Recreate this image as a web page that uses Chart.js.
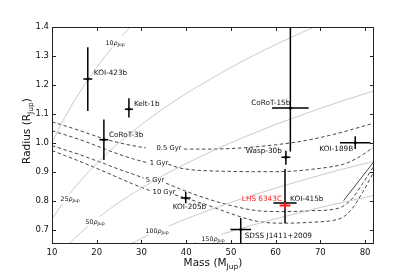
<!DOCTYPE html>
<html><head><meta charset="utf-8">
<script src="https://cdn.jsdelivr.net/npm/chart.js@4/dist/chart.umd.min.js"></script>
<style>html,body{margin:0;padding:0;background:#fff;}#wrap{width:416px;height:272px;}</style>
</head><body><div id="wrap"><canvas id="c" width="416" height="272"></canvas></div>
<script>
// ---------- data ----------
const X_TICKS = [10,20,30,40,50,60,70,80];
const Y_TICKS = [0.7,0.8,0.9,1.0,1.1,1.2,1.3,1.4];

const NAMES    = ["KOI-423b","Kelt-1b","CoRoT-3b","CoRoT-15b","Wasp-30b","KOI-189B","KOI-415b","KOI-205b","SDSS J1411+2009","LHS 6343C"];
const MASS     = [18.0, 27.2, 21.6, 63.3, 62.3, 77.8, 62.1, 39.9, 52.2, 62.1];
const MASS_ERR = [1.0, 0.9, 1.0, 4.1, 1.0, 3.4, 2.6, 1.1, 2.3, 1.2];
const RADIUS   = [1.22, 1.116, 1.01, 1.12, 0.95, 1.00, 0.792, 0.809, 0.70, 0.783];
const RAD_LO   = [0.11, 0.029, 0.07, 0.15, 0.026, 0.022, 0.07, 0.018, 0.05, 0.011];
const RAD_HI   = [0.11, 0.038, 0.07, 0.30, 0.022, 0.022, 0.117, 0.022, 0.04, 0.011];

// iso-density curves (mass, radius), null = label gap
const RHO10  = [[10,1.000],[12,1.063],[14,1.119],[16,1.170],[18,1.216],[20,1.260],[22,1.301],[23.5,1.330],null,[25.7,1.370],[27.5,1.401]];
const RHO25  = [[10,0.737],[12.3,0.789],null,[14.0,0.824],[16,0.862],[20,0.928],[25,1.000],[30,1.063],[35,1.119],[40,1.170],[45,1.216],[50,1.260],[55,1.301],[60,1.339],[65,1.375],[68.6,1.400]];
const RHO50  = [[13.7,0.650],[15,0.669],[18.0,0.711],null,[20.7,0.745],[25,0.794],[30,0.843],[35,0.888],[40,0.928],[45,0.965],[50,1.000],[55,1.032],[60,1.063],[65,1.091],[70,1.119],[75,1.145],[82,1.179]];
const RHO100 = [[27.5,0.650],[30,0.669],[31.7,0.682],null,[36.1,0.712],[40,0.737],[45,0.766],[50,0.794],[55,0.819],[60,0.843],[65,0.866],[70,0.888],[75,0.909],[82,0.936]];
const RHO150 = [[41.2,0.650],[42.2,0.655],null,[47.8,0.683],[50,0.693],[55,0.716],[60,0.737],[65,0.757],[70,0.776],[75,0.794],[82,0.818]];
const RHO_LABELS = ["10","25","50","100","150"];

// isochrones
const ISO05 = [[10,1.072],[13,1.058],[16,1.043],[19,1.027],[22,1.012],[25,1.0],[28,0.99],[31,0.982],null,[39.5,0.978],[45,0.978],[50,0.98],[55,0.985],[60,0.993],[65,1.003],[70,1.018],[75,1.037],[82,1.068]];
const ISO1  = [[10,1.041],[13,1.027],[16,1.012],[19,0.995],[22,0.977],[25,0.96],[28,0.945],[31.5,0.93],null,[36,0.926],[38,0.915],[41,0.907],[45,0.903],[50,0.901],[55,0.9],[60,0.9],[64,0.902],[68,0.908],[72,0.916],[75,0.925],[78,0.945],[82,0.985]];
const ISO5  = [[10,0.99],[13,0.975],[16,0.96],[19,0.943],[22,0.926],[25,0.908],[28,0.892],[30.5,0.878],null,[35.5,0.86],[40,0.832],[45,0.805],[50,0.783],[56,0.765],[62,0.762],[68,0.765],[73,0.77],[75,0.78],[77,0.805],[79.5,0.86],[82,0.92]];
const ISO10 = [[10,0.973],[13,0.955],[16,0.937],[19,0.918],[22,0.898],[25,0.878],[28,0.858],[32,0.834],null,[37.5,0.82],[40,0.808],[45,0.783],[50,0.755],[56,0.728],[62,0.722],[68,0.725],[73,0.732],[75,0.742],[77,0.77],[79.5,0.83],[82,0.9]];
const ISO_LABELS = ["0.5 Gyr","1 Gyr","5 Gyr","10 Gyr"];
const LIMIT = [[75.2,0.80],[82,0.935]];

// ---------- styles / placement ----------
const FONT = "'DejaVu Sans', sans-serif";
const toPts = a => a.map(p => p ? {x:p[0], y:p[1]} : {x:NaN, y:null});
const rhoSets = [RHO10,RHO25,RHO50,RHO100,RHO150];
const isoSets = [ISO05,ISO1,ISO5,ISO10];
const RHO_LABEL_POS = [[115,43],[70,199],[95,222],[157,231],[213,239]];
const ISO_LABEL_POS = [[169,148],[159,163],[155,180],[164,192]];
const LABEL_OFF = [[6,-6,'left'],[5,-5,'left'],[5,-5,'left'],[0,-5,'right'],[-4,-6,'right'],[-2,6,'right'],[5,-4,'left'],[-13,9,'left'],[4,7,'left'],[-3,-6,'right']];

const datasets = [];
rhoSets.forEach(s => datasets.push({type:'line', data:toPts(s), borderColor:'#b8b8b8', borderWidth:0.75, pointRadius:0, spanGaps:false, cubicInterpolationMode:'monotone'}));
isoSets.forEach(s => datasets.push({type:'line', data:toPts(s), borderColor:'#333', borderWidth:0.9, borderDash:[3.5,2.5], pointRadius:0, spanGaps:false, cubicInterpolationMode:'monotone'}));
datasets.push({type:'line', data:toPts(LIMIT), borderColor:'#333', borderWidth:0.9, pointRadius:0});
datasets.push({type:'scatter', data:MASS.slice(0,9).map((m,i)=>({x:m,y:RADIUS[i]})), pointRadius:1.6, pointBackgroundColor:'#000', pointBorderWidth:0});

const errPlugin = {
  id:'err',
  afterDatasetsDraw(chart){
    const {ctx, chartArea:a, scales:{x,y}} = chart;
    ctx.save();
    ctx.beginPath(); ctx.rect(a.left,a.top,a.right-a.left,a.bottom-a.top); ctx.clip();
    ctx.lineCap='butt';
    for(let i=0;i<NAMES.length;i++){
      const red = NAMES[i]==="LHS 6343C";
      ctx.strokeStyle = red ? '#ff1a1a' : '#000';
      ctx.lineWidth = red ? 2 : 1.5;
      const px=x.getPixelForValue(MASS[i]), py=y.getPixelForValue(RADIUS[i]);
      ctx.beginPath();
      ctx.moveTo(x.getPixelForValue(MASS[i]-MASS_ERR[i]),py);
      ctx.lineTo(x.getPixelForValue(MASS[i]+MASS_ERR[i]),py);
      ctx.moveTo(px,y.getPixelForValue(RADIUS[i]-RAD_LO[i]));
      ctx.lineTo(px,y.getPixelForValue(RADIUS[i]+RAD_HI[i]));
      ctx.stroke();
    }
    ctx.restore();
    ctx.save();
    ctx.font = "7.3px " + FONT; ctx.textBaseline='middle';
    NAMES.forEach((n,i)=>{
      const o = LABEL_OFF[i];
      ctx.fillStyle = n==="LHS 6343C" ? '#ff2020' : '#111';
      ctx.textAlign = o[2];
      ctx.fillText(n, x.getPixelForValue(MASS[i])+o[0], y.getPixelForValue(RADIUS[i])+o[1]);
    });
    ctx.font = "6.8px " + FONT; ctx.fillStyle='#111'; ctx.textAlign='center';
    ISO_LABELS.forEach((t,i)=>ctx.fillText(t, ISO_LABEL_POS[i][0], ISO_LABEL_POS[i][1]));
    RHO_LABELS.forEach((t,i)=>{
      const [cx,cy]=RHO_LABEL_POS[i];
      ctx.font = "6.3px " + FONT; const w1=ctx.measureText(t).width;
      ctx.font = "italic 6.3px " + FONT; const w2=ctx.measureText('ρ').width;
      ctx.font = "4.6px " + FONT; const w3=ctx.measureText('Jup').width;
      let sx = cx-(w1+w2+w3)/2;
      ctx.textAlign='left';
      ctx.font = "6.3px " + FONT; ctx.fillText(t,sx,cy); sx+=w1;
      ctx.font = "italic 6.3px " + FONT; ctx.fillText('ρ',sx,cy); sx+=w2;
      ctx.font = "4.6px " + FONT; ctx.fillText('Jup',sx,cy+2);
    });
    ctx.restore();
  },
  afterDraw(chart){
    const {ctx, chartArea:a, scales:{x,y}} = chart;
    ctx.save();
    ctx.strokeStyle='#222'; ctx.lineWidth=1;
    ctx.strokeRect(a.left+0.5,a.top+0.5,a.right-a.left-1,a.bottom-a.top-1);
    ctx.beginPath();
    X_TICKS.forEach(v=>{const p=Math.round(x.getPixelForValue(v))+0.5;
      ctx.moveTo(p,a.bottom); ctx.lineTo(p,a.bottom-4); ctx.moveTo(p,a.top); ctx.lineTo(p,a.top+4);});
    Y_TICKS.forEach(v=>{const p=Math.round(y.getPixelForValue(v))+0.5;
      ctx.moveTo(a.left,p); ctx.lineTo(a.left+4,p); ctx.moveTo(a.right,p); ctx.lineTo(a.right-4,p);});
    ctx.stroke();
    ctx.fillStyle='#111'; ctx.textBaseline='alphabetic';
    function sub(main, s, tail, cx, cy){
      ctx.font="10.5px "+FONT; const w1=ctx.measureText(main).width, w3=ctx.measureText(tail).width;
      ctx.font="7.5px "+FONT; const w2=ctx.measureText(s).width;
      let sx=cx-(w1+w2+w3)/2; ctx.textAlign='left';
      ctx.font="10.5px "+FONT; ctx.fillText(main,sx,cy); sx+=w1;
      ctx.font="7.5px "+FONT; ctx.fillText(s,sx,cy+3); sx+=w2;
      ctx.font="10.5px "+FONT; ctx.fillText(tail,sx,cy);
    }
    sub("Mass (M","Jup",")",213,266);
    ctx.translate(30,131); ctx.rotate(-Math.PI/2);
    sub("Radius (R","Jup",")",0,0);
    ctx.restore();
  }
};

new Chart(document.getElementById('c'), {
  type:'scatter',
  data:{datasets},
  options:{
    responsive:false, animation:false, devicePixelRatio:1,
    layout:{padding:{top:27,right:42,left:0,bottom:0}},
    plugins:{legend:{display:false}, tooltip:{enabled:false}},
    scales:{
      x:{type:'linear', min:10, max:82,
         afterBuildTicks: s=>{s.ticks = X_TICKS.map(v=>({value:v}));},
         afterFit: s=>{s.height=28;},
         grid:{display:false, drawTicks:false}, border:{display:false},
         ticks:{font:{family:FONT,size:8.5}, color:'#111', padding:4, maxRotation:0, callback:v=>String(v)}},
      y:{type:'linear', min:0.65, max:1.4,
         afterBuildTicks: s=>{s.ticks = Y_TICKS.map(v=>({value:v}));},
         afterFit: s=>{s.width=52;},
         grid:{display:false, drawTicks:false}, border:{display:false},
         ticks:{font:{family:FONT,size:8.5}, color:'#111', padding:3, callback:v=>v.toFixed(1)}}
    }
  },
  plugins:[errPlugin]
});
</script></body></html>
